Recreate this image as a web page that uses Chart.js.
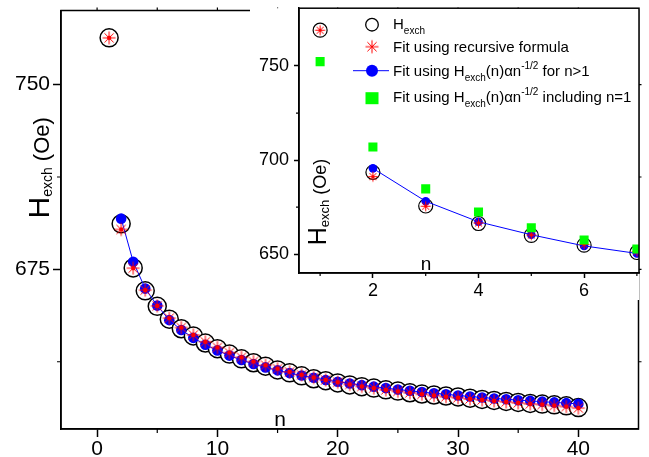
<!DOCTYPE html>
<html><head><meta charset="utf-8">
<script src="https://cdn.jsdelivr.net/npm/chart.js@4/dist/chart.umd.min.js"></script>
<style>
html,body{margin:0;padding:0;background:#fff;}
#wrap{position:relative;width:649px;height:457px;overflow:hidden;background:#fff;}
#main{position:absolute;left:0;top:0;width:649px;height:457px;}
#inset{position:absolute;left:250px;top:0;width:399px;height:300px;}
</style></head><body>
<div id="wrap">
<canvas id="main" width="649" height="457"></canvas>
<canvas id="inset" width="399" height="300"></canvas>
</div>
<script>
// ---------- data ----------
const nValues = [1,2,3,4,5,6,7,8,9,10,11,12,13,14,15,16,17,18,19,20,21,22,23,24,25,26,27,28,29,30,31,32,33,34,35,36,37,38,39,40];
const hExch = [769.0,693.5,675.6,666.3,660.0,654.8,650.9,648.0,645.1,642.8,640.6,638.7,637.1,635.7,634.2,633.0,631.8,630.6,629.8,628.9,
               628.1,627.4,626.8,626.1,625.6,624.9,624.4,624.0,623.6,623.2,622.7,622.2,621.8,621.4,621.0,620.6,620.3,620.0,619.6,618.9];
const fitRecursive = [769.0,691.2,675.5,666.6,660.2,655.2,651.4,648.4,645.6,643.3,641.2,639.3,637.6,636.1,634.7,633.4,632.2,631.1,630.1,629.2,
               628.3,627.5,626.8,626.1,625.5,624.9,624.3,623.8,623.3,622.9,622.4,622.0,621.6,621.2,620.8,620.4,620.1,619.7,619.3,618.7];
const fitSqrtN = [null,695.6,678.1,667.2,660.3,654.4,650.4,647.2,644.4,642.1,640.0,638.2,636.6,635.2,634.0,632.9,631.9,631.0,630.1,629.4,
               628.7,628.0,627.4,626.8,626.2,625.7,625.2,624.7,624.3,623.8,623.4,623.0,622.6,622.3,621.9,621.6,621.3,621.0,620.7,620.4];
const nIncluding = [1,2,3,4,5,6,7];
const fitSqrtIncluding = [752.3,707.0,684.7,672.4,664.0,657.5,652.8];
const mainXTicks = [0,10,20,30,40];
const mainXMinor = [5,15,25,35];
const mainYTicks = [675,750];
const mainYMinor = [637.5,712.5];
const insetXTicks = [2,4,6];
const insetXMinor = [1,3,5,7];
const insetYTicks = [650,700,750];
const insetYMinor = [675,725];

const FONT = '"Liberation Sans", Arial, Helvetica, sans-serif';
const pts = (xs, ys) => xs.map((x,i)=>({x:x, y:ys[i]})).filter(p=>p.y!==null && p.y!==undefined);

function asterisk(arm, dot, lw){
  const s = Math.ceil(2*arm+3);
  const c = document.createElement('canvas'); c.width=s; c.height=s;
  const g = c.getContext('2d'); const cx = s/2;
  g.strokeStyle='#ff0000'; g.lineWidth=lw; g.beginPath();
  for(let k=0;k<4;k++){const a=k*Math.PI/4;
    g.moveTo(cx-arm*Math.cos(a), cx-arm*Math.sin(a)); g.lineTo(cx+arm*Math.cos(a), cx+arm*Math.sin(a));}
  g.stroke();
  if(dot>0){g.fillStyle='#ff0000'; g.beginPath(); g.arc(cx,cx,dot,0,2*Math.PI); g.fill();}
  return c;
}
const starMain = asterisk(6.5, 2.2, 1);
const starInset = asterisk(5, 1.8, 1);
const starLegend = asterisk(6.5, 0, 1);

function drawRuns(ctx, x, y, runs){
  for(const r of runs){
    ctx.font = r.size+'px '+FONT;
    ctx.fillText(r.t, x, y + (r.dy||0));
    x += ctx.measureText(r.t).width;
  }
  return x;
}

function decoPlugin(cfg){
  return {
    id:'deco'+cfg.name,
    beforeDraw(chart){
      if(!cfg.bg) return;
      const a = chart.chartArea, ctx = chart.ctx;
      ctx.save(); ctx.fillStyle='#fff';
      ctx.fillRect(0, a.top, a.right, chart.height - a.top);
      ctx.restore();
    },
    afterDraw(chart){
      const ctx = chart.ctx, a = chart.chartArea, xs = chart.scales.x, ys = chart.scales.y;
      ctx.save();
      ctx.strokeStyle='#000'; ctx.lineWidth=1.5;
      ctx.strokeRect(a.left, a.top, a.right-a.left, a.bottom-a.top);
      ctx.lineWidth=1.2;
      ctx.beginPath();
      for(const v of cfg.xMinor){const p=xs.getPixelForValue(v); ctx.moveTo(p,a.bottom); ctx.lineTo(p,a.bottom+cfg.minorLen);}
      for(const v of cfg.yMinor){const p=ys.getPixelForValue(v); ctx.moveTo(a.left,p); ctx.lineTo(a.left-cfg.minorLen,p);}
      if(cfg.mirror){
        for(const v of cfg.xMajor.concat(cfg.xMinor)){const p=xs.getPixelForValue(v); ctx.moveTo(p,a.top); ctx.lineTo(p,a.top-cfg.mirrorLen);}
        for(const v of cfg.yMajor.concat(cfg.yMinor)){const p=ys.getPixelForValue(v); ctx.moveTo(a.right,p); ctx.lineTo(a.right+cfg.mirrorLen,p);}
      }
      ctx.stroke();
      ctx.fillStyle='#000'; ctx.textBaseline='alphabetic';
      // y title (rotated)
      ctx.save();
      ctx.translate(a.left + cfg.yTitle.dx, a.top + cfg.yTitle.dy);
      ctx.rotate(-Math.PI/2);
      drawRuns(ctx, 0, 0, cfg.yTitle.runs);
      ctx.restore();
      // x title
      ctx.font = cfg.xTitle.size+'px '+FONT; ctx.textAlign='center';
      ctx.fillText('n', a.left + cfg.xTitle.dx, a.top + cfg.xTitle.dy);
      ctx.textAlign='left';
      if(cfg.legend) cfg.legend(ctx, a);
      ctx.restore();
    }
  };
}

function scaleOpts(min, max, major, fontSize, tickLen, pad, fitProp, fitVal){
  return {
    type:'linear', min:min, max:max,
    afterBuildTicks: s => { s.ticks = major.map(v=>({value:v})); },
    afterFit: s => { s[fitProp] = fitVal; s.paddingTop = 0; s.paddingBottom = 0; s.paddingLeft = 0; s.paddingRight = 0; },
    ticks:{font:{family:FONT,size:fontSize}, color:'#000', padding:pad, maxRotation:0, autoSkip:false, callback:v=>String(v)},
    grid:{drawOnChartArea:false, drawTicks:true, tickLength:tickLen, tickColor:'#000', tickWidth:1.5},
    border:{display:true, color:'#000', width:1.5}
  };
}

// ---------- main chart ----------
new Chart(document.getElementById('main'), {
  type:'scatter',
  data:{datasets:[
    {label:'Fit using recursive formula', data:pts(nValues, fitRecursive), showLine:false,
     pointStyle:starMain, pointRadius:6, pointBorderWidth:0, pointBackgroundColor:'#f00', pointBorderColor:'#f00'},
    {label:'Fit using Hexch(n)αn^-1/2 for n>1', data:pts(nValues, fitSqrtN), showLine:true,
     borderColor:'#0000ff', borderWidth:1, pointStyle:'circle', pointRadius:5.3, pointBorderWidth:0,
     pointBackgroundColor:'#0000ff', pointBorderColor:'#0000ff'},
    {label:'Hexch', data:pts(nValues, hExch), showLine:false,
     pointStyle:'circle', pointRadius:9, pointBorderWidth:1.5, pointBorderColor:'#000', pointBackgroundColor:'#fff'}
  ]},
  options:{
    responsive:false, animation:false, devicePixelRatio:1,
    layout:{padding:{left:0, top:6, right:10, bottom:0}},
    plugins:{legend:{display:false}, tooltip:{enabled:false}},
    scales:{
      x: scaleOpts(-3, 45, mainXTicks, 21, 8, 0, 'height', 28),
      y: scaleOpts(610.2, 780.1, mainYTicks, 21, 8, 3, 'width', 61)
    }
  },
  plugins:[decoPlugin({name:'main', bg:false, xMinor:mainXMinor, yMinor:mainYMinor, xMajor:mainXTicks, yMajor:mainYTicks,
    minorLen:4, mirror:true, mirrorLen:3,
    yTitle:{dx:-12, dy:208, runs:[{t:'H',size:30},{t:'exch',size:14,dy:3},{t:' (Oe)',size:22}]},
    xTitle:{dx:219, dy:415, size:21}})]
});

// ---------- inset chart ----------
function insetLegend(ctx, a){
  const sx = a.left + 73, tx = a.left + 94;
  const top = a.top;
  ctx.fillStyle='#000';
  // row 1: open circle
  ctx.lineWidth=1.3; ctx.strokeStyle='#000';
  ctx.beginPath(); ctx.arc(sx, top+16.5, 6.3, 0, 2*Math.PI); ctx.stroke();
  drawRuns(ctx, tx, top+20.5, [{t:'H',size:15},{t:'exch',size:10,dy:5}]);
  // row 2: red asterisk
  ctx.drawImage(starLegend, sx - starLegend.width/2, top+38.5 - starLegend.height/2);
  drawRuns(ctx, tx, top+44, [{t:'Fit using recursive formula',size:15}]);
  // row 3: blue line + circle
  ctx.strokeStyle='#0000ff'; ctx.lineWidth=1;
  ctx.beginPath(); ctx.moveTo(sx-19, top+62.5); ctx.lineTo(sx+17, top+62.5); ctx.stroke();
  ctx.fillStyle='#0000ff'; ctx.beginPath(); ctx.arc(sx, top+62.5, 6, 0, 2*Math.PI); ctx.fill();
  ctx.fillStyle='#000';
  drawRuns(ctx, tx, top+68, [{t:'Fit using H',size:15},{t:'exch',size:10,dy:5},{t:'(n)αn',size:15},{t:'-1/2',size:10,dy:-7},{t:' for n>1',size:15}]);
  // row 4: green square
  ctx.fillStyle='#00ff00'; ctx.fillRect(sx-6.5, top+84, 13, 12);
  ctx.fillStyle='#000';
  drawRuns(ctx, tx, top+94, [{t:'Fit using H',size:15},{t:'exch',size:10,dy:5},{t:'(n)αn',size:15},{t:'-1/2',size:10,dy:-7},{t:' including n=1',size:15}]);
}

new Chart(document.getElementById('inset'), {
  type:'scatter',
  data:{datasets:[
    {label:'Fit using Hexch(n)αn^-1/2 including n=1', data:pts(nIncluding, fitSqrtIncluding), showLine:false,
     pointStyle:'rect', pointRadius:6.4, pointBorderWidth:0, pointBackgroundColor:'#00ff00', pointBorderColor:'#00ff00'},
    {label:'Fit using recursive formula', data:pts(nValues, fitRecursive), showLine:false,
     pointStyle:starInset, pointRadius:5, pointBorderWidth:0, pointBackgroundColor:'#f00', pointBorderColor:'#f00'},
    {label:'Fit using Hexch(n)αn^-1/2 for n>1', data:pts(nValues, fitSqrtN), showLine:true,
     borderColor:'#0000ff', borderWidth:1, pointStyle:'circle', pointRadius:4.3, pointBorderWidth:0,
     pointBackgroundColor:'#0000ff', pointBorderColor:'#0000ff'},
    {label:'Hexch', data:pts(nValues, hExch), showLine:false,
     pointStyle:'circle', pointRadius:7, pointBorderWidth:1.2, pointBorderColor:'#000', pointBackgroundColor:'#fff'}
  ]},
  options:{
    responsive:false, animation:false, devicePixelRatio:1,
    layout:{padding:{left:0, top:6, right:10, bottom:0}},
    plugins:{legend:{display:false}, tooltip:{enabled:false}},
    scales:{
      x: scaleOpts(0.6, 7.04, insetXTicks, 18, 5, 2, 'height', 27),
      y: scaleOpts(640, 780.7, insetYTicks, 18, 5, 5, 'width', 49)
    }
  },
  plugins:[decoPlugin({name:'inset', bg:true, xMinor:insetXMinor, yMinor:insetYMinor, xMajor:insetXTicks, yMajor:insetYTicks,
    minorLen:3, mirror:false, mirrorLen:0,
    yTitle:{dx:27, dy:237, runs:[{t:'H',size:25},{t:'exch',size:13,dy:3},{t:' (Oe)',size:18}]},
    xTitle:{dx:127, dy:262, size:19}, legend:insetLegend})]
});
</script>
</body></html>
